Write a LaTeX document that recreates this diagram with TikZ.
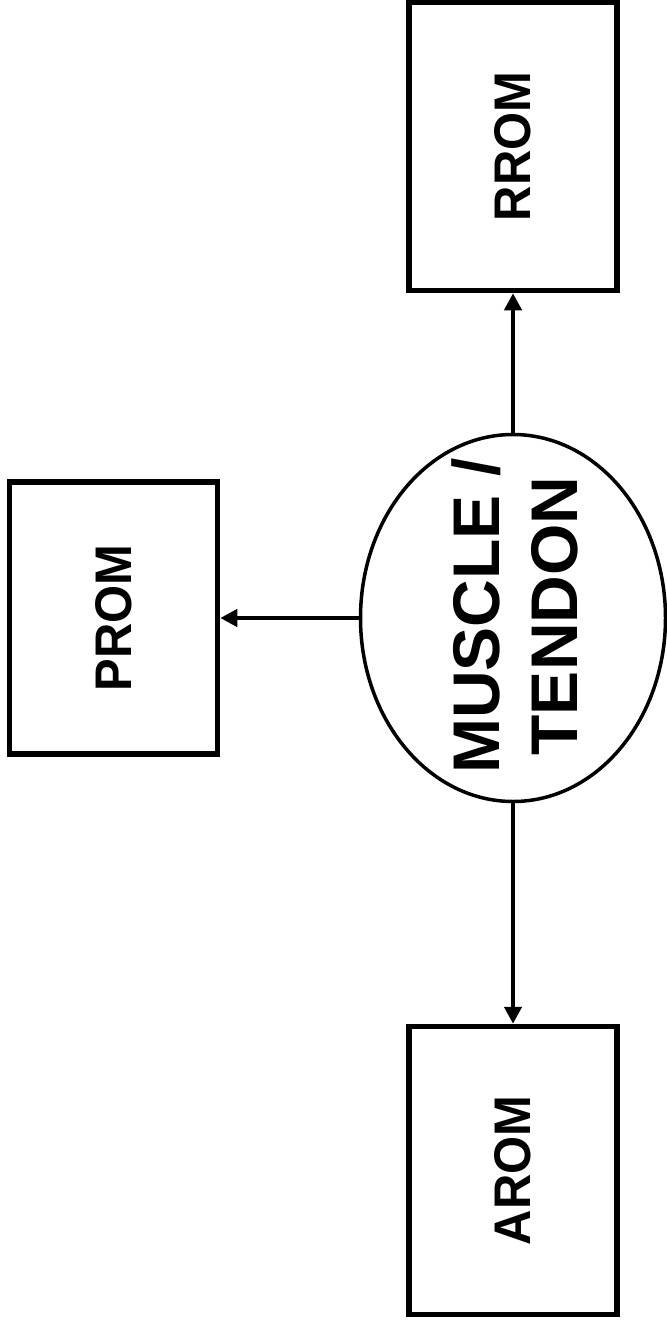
\documentclass[tikz,border=0pt]{standalone}
\usepackage{fontspec}
\setmainfont{Liberation Sans}
\usepackage{graphicx}
\usetikzlibrary{shapes.geometric,arrows.meta}
\newcommand{\boxlabel}[1]{\rotatebox{90}{\scalebox{0.95}[1]{#1}}}
\begin{document}
\begin{tikzpicture}[x=1pt,y=-1pt,
  box/.style={draw,line width=5.5pt,minimum width=208pt,inner sep=0pt,
    font=\bfseries\fontsize{51.5}{60}\selectfont},
  conn/.style={line width=4.5pt,-{Triangle[width=17pt,length=17pt]}},
  oval/.style={ellipse,draw,line width=3.5pt,minimum width=305pt,minimum height=367pt,inner sep=0pt}]
\useasboundingbox (0,0) rectangle (666,1321);
\node[box,minimum height=288pt] (rrom) at (513,146.5) {\boxlabel{RROM}};
\node[box,minimum height=272pt] (prom) at (113.5,618) {\boxlabel{PROM}};
\node[box,minimum height=288pt] (arom) at (513,1170.5) {\boxlabel{AROM}};
\node[oval] (ell) at (513,618) {};
\node[font=\bfseries\fontsize{66}{78}\selectfont,align=center,rotate=90,inner sep=0pt] (mt) at (515,616) {MUSCLE /\\TENDON};
\draw[conn] (ell.north) -- (rrom.south);
\draw[conn] (ell.west) -- (prom.east);
\draw[conn] (ell.south) -- (arom.north);
\end{tikzpicture}
\end{document}
